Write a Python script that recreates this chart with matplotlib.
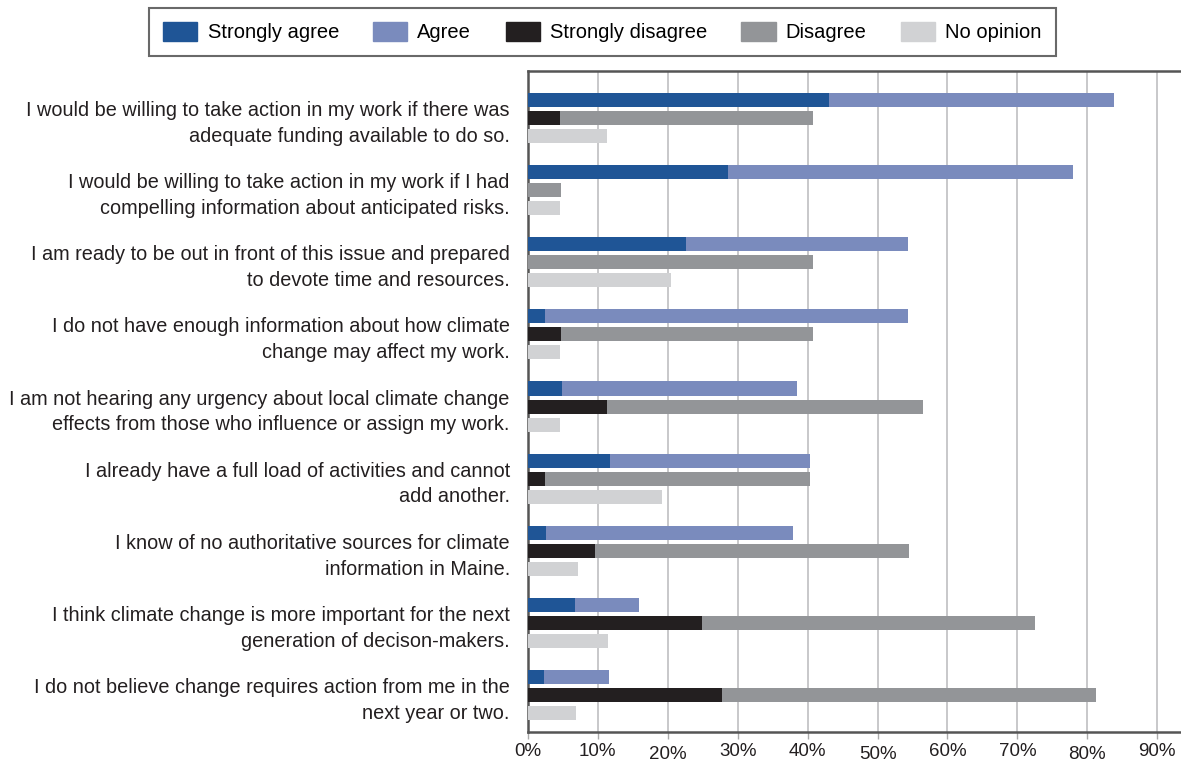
import numpy as np
import matplotlib
matplotlib.use("Agg")
import matplotlib.pyplot as plt
from matplotlib.patches import Patch
from matplotlib.ticker import FuncFormatter

plt.rcParams["font.family"] = ["Liberation Sans", "DejaVu Sans"]

# survey statements, top to bottom
statements = [
    "I would be willing to take action in my work if there was\nadequate funding available to do so.",
    "I would be willing to take action in my work if I had\ncompelling information about anticipated risks.",
    "I am ready to be out in front of this issue and prepared\nto devote time and resources.",
    "I do not have enough information about how climate\nchange may affect my work.",
    "I am not hearing any urgency about local climate change\neffects from those who influence or assign my work.",
    "I already have a full load of activities and cannot\nadd another.",
    "I know of no authoritative sources for climate\ninformation in Maine.",
    "I think climate change is more important for the next\ngeneration of decison-makers.",
    "I do not believe change requires action from me in the\nnext year or two.",
]

# responses in percent
strongly_agree    = [43.1, 28.6, 22.6, 2.4, 4.9, 11.7, 2.6, 6.7, 2.3]
agree             = [40.7, 49.4, 31.8, 52.0, 33.6, 28.6, 35.3, 9.2, 9.3]
strongly_disagree = [4.6, 0.0, 0.0, 4.7, 11.3, 2.4, 9.6, 24.9, 27.8]
disagree          = [36.2, 4.7, 40.8, 36.1, 45.2, 37.9, 44.9, 47.6, 53.5]
no_opinion        = [11.3, 4.6, 20.5, 4.6, 4.6, 19.2, 7.2, 11.4, 6.9]

c_sa, c_a = "#1f5596", "#7a8bbd"
c_sd, c_d = "#231f20", "#939598"
c_no = "#d1d2d4"

fig = plt.figure(figsize=(11.81, 7.62), dpi=100)
ax = fig.add_axes([0.447, 0.0394, 0.553, 0.8674])

y = np.arange(len(statements))
off = 0.25
h = 0.195
sa = np.array(strongly_agree)
sd = np.array(strongly_disagree)

ax.barh(y - off, sa, height=h, color=c_sa, zorder=3)
ax.barh(y - off, agree, left=sa, height=h, color=c_a, zorder=3)
ax.barh(y, sd, height=h, color=c_sd, zorder=3)
ax.barh(y, disagree, left=sd, height=h, color=c_d, zorder=3)
ax.barh(y + off, no_opinion, height=h, color=c_no, zorder=3)

ax.set_ylim(8.51, -0.65)
ax.set_xlim(0, 93.4)
ax.set_yticks(y)
ax.set_yticklabels(statements, fontsize=14.3, color="#231f20", linespacing=1.45)
ax.tick_params(axis="y", length=0, pad=13)

ax.set_xticks(np.arange(0, 91, 10))
ax.xaxis.set_major_formatter(FuncFormatter(lambda v, p: f"{v:.0f}%"))
ax.tick_params(axis="x", labelsize=13.5, colors="#aaaaaa", labelcolor="#231f20",
               length=5, width=1, pad=3)
# every third label sits a little lower
for i, t in enumerate(ax.xaxis.get_major_ticks()):
    if i in (2, 5, 8):
        t.set_pad(5)
ax.grid(axis="x", color="#c8c8ca", linewidth=1.4, zorder=0)

for side in ["left", "top", "bottom"]:
    ax.spines[side].set_color("#555555")
    ax.spines[side].set_linewidth(1.8)
ax.spines["right"].set_visible(False)

handles = [
    Patch(color=c_sa, label="Strongly agree"),
    Patch(color=c_a, label="Agree"),
    Patch(color=c_sd, label="Strongly disagree"),
    Patch(color=c_d, label="Disagree"),
    Patch(color=c_no, label="No opinion"),
]
leg = fig.legend(handles=handles, loc="upper center", bbox_to_anchor=(0.51, 0.99),
                 ncol=5, fontsize=14.5, frameon=True, fancybox=False,
                 handlelength=1.7, handleheight=1.1, handletextpad=0.5,
                 columnspacing=1.7, borderpad=0.7, borderaxespad=0)
leg.get_frame().set_edgecolor("#444444")
leg.get_frame().set_linewidth(1.5)

fig.savefig("out.png", dpi=100)
